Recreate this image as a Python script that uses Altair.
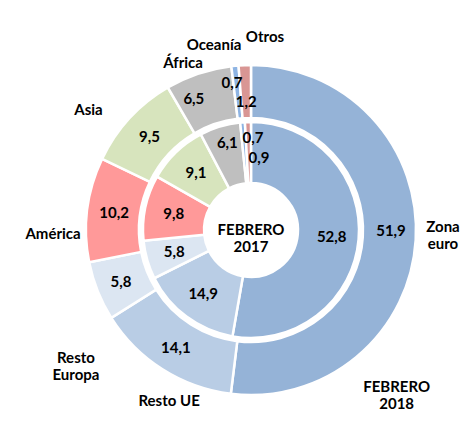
import math
import altair as alt
import pandas as pd

# ---------------- data ----------------
categories = ["Zona euro", "Resto UE", "Resto Europa", "América", "Asia", "África", "Oceanía", "Otros"]
category_labels = ["Zona\neuro", "Resto UE", "Resto\nEuropa", "América", "Asia", "África", "Oceanía", "Otros"]
values_2018 = [51.9, 14.1, 5.8, 10.2, 9.5, 6.5, 0.7, 1.2]   # outer ring
values_2017 = [52.8, 14.9, 5.8, 9.8, 9.1, 6.1, 0.7, 0.9]    # inner ring
ring_titles = ["FEBRERO\n2018", "FEBRERO\n2017"]

# ---------------- style / layout ----------------
colors = ["#95b3d7", "#b9cde5", "#dce6f2", "#ff9999", "#d7e4bd", "#bfbfbf", "#8eb4e3", "#d99694"]
CX, CY = 243, 222            # ring centre inside the plot area
OUTER_R, OUTER_R2 = 165, 112
INNER_R, INNER_R2 = 108, 47
FONT = "Lato"
FS = 15
# manual label placement (angle shift in degrees, radius in px), like Excel's moved labels
cat_shift_deg = [-4.4, -6.9, -14.5, -8.3, -6.2, -3.6, -5.7, 6.3]
cat_radius = [192, 190, 217, 198, 202, 180, 189, 194]
out_val_shift = [-3, 0, 0, 0, 0, -5, -1.8, 0]
out_val_radius = [140, 140, 140, 138, 138, 143, 148, 128]
in_val_shift = [0, 0, 0, 0, 0, 1.5, 5.7, 8]
in_val_radius = [81, 80, 80, 79, 79, 90, 92, 72]


def ring_frame(values, shifts, radii):
    total = sum(values)
    rows, acc = [], 0.0
    for i, (c, v) in enumerate(zip(categories, values)):
        start = acc / total
        acc += v
        end = acc / total
        mid = (start + end) / 2
        rows.append(dict(cat=c, value=v, start=start, end=end,
                         vlab=f"{v:.1f}".replace(".", ","),
                         vtheta=mid + shifts[i] / 360.0, vr=radii[i],
                         cname=category_labels[i],
                         ctheta=mid + cat_shift_deg[i] / 360.0, cr=cat_radius[i]))
    return pd.DataFrame(rows)


outer = ring_frame(values_2018, out_val_shift, out_val_radius)
inner = ring_frame(values_2017, in_val_shift, in_val_radius)

tscale = alt.Scale(domain=[0, 1], range=[0, 2 * math.pi])
cscale = alt.Scale(domain=categories, range=colors)
X = alt.value(CX)
Y = alt.value(CY)


def arcs(df, r, r2):
    return alt.Chart(df).mark_arc(radius=r, radius2=r2, stroke="white", strokeWidth=2.5).encode(
        theta=alt.Theta("start:Q", scale=tscale),
        theta2="end:Q",
        color=alt.Color("cat:N", scale=cscale, legend=None),
        x=X, y=Y,
    )


def texts(df, tfield, rfield, tcol):
    return alt.Chart(df).mark_text(font=FONT, fontSize=FS, fontWeight="bold", color="#000000",
                                   lineBreak="\n", align="center", baseline="middle").encode(
        theta=alt.Theta(f"{tfield}:Q", scale=tscale, stack=False),
        radius=alt.Radius(f"{rfield}:Q", scale=None),
        text=alt.Text(f"{tcol}:N"),
        x=X, y=Y,
    )


titles = pd.DataFrame({"t": ring_titles, "theta": [137.1 / 360.0, 0.0], "r": [214, 0]})
title_layer = alt.Chart(titles).mark_text(font=FONT, fontSize=FS, fontWeight="bold", color="#000000",
                                          lineBreak="\n", align="center", baseline="middle").encode(
    theta=alt.Theta("theta:Q", scale=tscale, stack=False),
    radius=alt.Radius("r:Q", scale=None),
    text="t:N",
    x=X, y=Y,
)

chart = alt.layer(
    arcs(outer, OUTER_R, OUTER_R2),
    arcs(inner, INNER_R, INNER_R2),
    texts(outer, "vtheta", "vr", "vlab"),
    texts(inner, "vtheta", "vr", "vlab"),
    texts(outer, "ctheta", "cr", "cname"),
    title_layer,
).properties(
    width=456, height=407, padding=0, autosize=alt.AutoSizeParams(type="none")
).configure_view(strokeWidth=0, stroke="transparent")

chart.save("out.html", embed_options={"renderer": "svg", "actions": False})
